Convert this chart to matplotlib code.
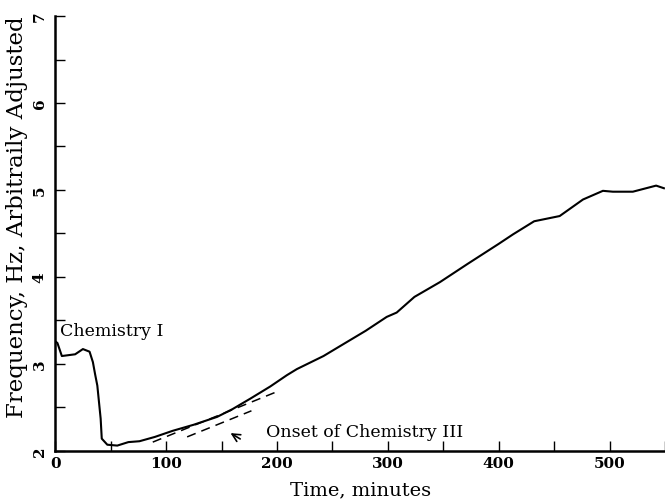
import numpy as np
import matplotlib
matplotlib.use("Agg")
import matplotlib.pyplot as plt
from matplotlib.ticker import MultipleLocator

# -- Data
time_min = [0, 2, 6, 12, 18, 25, 31, 34, 36, 38, 41, 42, 47, 56, 66, 76, 90, 106,
            125, 146, 160, 176, 194, 209, 218, 242, 259, 280, 299, 308, 324, 347,
            372, 400, 413, 432, 455, 476, 494, 503, 521, 542, 549]
freq_hz = [3.26, 3.24, 3.09, 3.10, 3.11, 3.17, 3.14, 3.02, 2.88, 2.75, 2.37, 2.14,
           2.07, 2.06, 2.10, 2.11, 2.16, 2.23, 2.30, 2.39, 2.48, 2.60, 2.74, 2.87,
           2.94, 3.09, 3.22, 3.38, 3.54, 3.59, 3.77, 3.94, 4.15, 4.38, 4.49, 4.64,
           4.70, 4.89, 4.99, 4.98, 4.98, 5.05, 5.02]

# -- Tangent (dashed) lines
tan1_t = [88, 200]
tan1_f = [2.10, 2.68]
tan2_t = [119, 177]
tan2_f = [2.16, 2.46]

x_ticks = [0, 100, 200, 300, 400, 500]
y_ticks = [2, 3, 4, 5, 6, 7]

plt.rcParams['font.family'] = ['DejaVu Serif']

fig = plt.figure(figsize=(6.65, 5.02), dpi=100)
ax = fig.add_axes([0.083, 0.100, 0.917, 0.866])

ax.plot(time_min, freq_hz, color='black', lw=1.5, solid_joinstyle='round')
ax.plot(tan1_t, tan1_f, color='black', lw=1.1, ls=(0, (6, 4)))
ax.plot(tan2_t, tan2_f, color='black', lw=1.1, ls=(0, (6, 4)))

ax.set_xlim(0, 550)
ax.set_ylim(2, 7)

# -- Axes style
for side in ['top', 'right']:
    ax.spines[side].set_visible(False)
for side in ['left', 'bottom']:
    ax.spines[side].set_linewidth(1.8)

ax.set_xticks(x_ticks)
ax.xaxis.set_minor_locator(MultipleLocator(50))
ax.set_yticks(y_ticks)
ax.yaxis.set_minor_locator(MultipleLocator(0.5))
ax.tick_params(which='both', direction='in', length=7, width=1.0, labelsize=11)
ax.tick_params(axis='y', pad=6)
for lbl in ax.get_xticklabels() + ax.get_yticklabels():
    lbl.set_fontweight('bold')
for lbl in ax.get_yticklabels():
    lbl.set_rotation(90)
    lbl.set_va('center')

ax.set_xlabel("Time, minutes", fontsize=14)
ax.set_ylabel("Frequency, Hz, Arbitraily Adjusted", fontsize=16.5)
ax.xaxis.set_label_coords(0.5, -0.068)
ax.yaxis.set_label_coords(-0.045, 0.54)

# -- Annotations
ax.text(4, 3.38, "Chemistry I", fontsize=12.5, va='center', ha='left')
ax.text(190, 2.22, "Onset of Chemistry III", fontsize=12.5, va='center', ha='left')
ax.annotate("", xy=(156, 2.22), xytext=(169, 2.12),
            arrowprops=dict(arrowstyle='->', color='black', lw=1.2,
                            mutation_scale=14))

fig.savefig("out.png", dpi=100)
